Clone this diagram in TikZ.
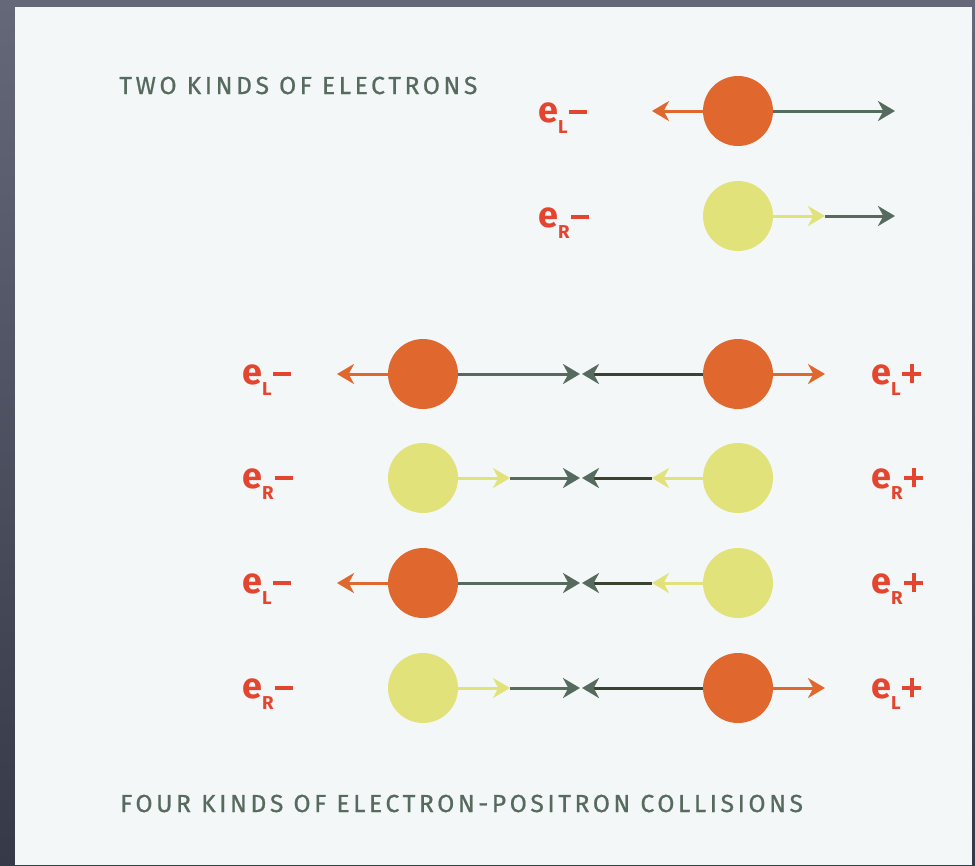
\documentclass[tikz,border=0pt]{standalone}
\usepackage{fontspec}
\setmainfont{Fira Sans}
\newfontfamily\capsfont[LetterSpace=14.5,FakeBold=0.7]{Fira Sans}
\usetikzlibrary{arrows.meta}
\definecolor{bgtop}{HTML}{646879}
\definecolor{bgbot}{HTML}{363947}
\definecolor{panel}{HTML}{F3F7F8}
\definecolor{orng}{HTML}{E0672E}
\definecolor{ylw}{HTML}{E1E27A}
\definecolor{gry}{HTML}{566A5E}
\definecolor{drk}{HTML}{3B4230}
\definecolor{lbl}{HTML}{E4452F}
\newcommand{\lsub}[1]{\raisebox{-8.3pt}{\fontsize{14pt}{14pt}\selectfont #1}}
\newcommand{\mns}{\hspace{1.2pt}\rule[6.2pt]{13.5pt}{2.7pt}}
\newcommand{\pls}{\hspace{1.2pt}\rlap{\rule[6.1pt]{14.25pt}{2.9pt}}\hspace{5.675pt}\rule[0.4pt]{2.9pt}{14.25pt}\hspace{5.675pt}}
\tikzset{
  ball/.style={circle, minimum size=52.5pt, inner sep=0pt, draw=none},
  lball/.style={ball, fill=orng},
  rball/.style={ball, fill=ylw},
  arrhead/.style={-{Stealth[length=12.75pt, width=15pt, inset=4pt, #1]}},
  arrhead/.default={},
  garr/.style={draw=gry, line width=2.25pt, arrhead},
  darr/.style={draw=drk, line width=2.25pt, arrhead={color=gry}},
  oarr/.style={draw=orng, line width=2.25pt, arrhead},
  yarr/.style={draw=ylw, line width=2.25pt, arrhead},
  lab/.style={anchor=base west, inner sep=0pt, text=lbl, font=\fontsize{27pt}{27pt}\selectfont\bfseries},
  ttl/.style={anchor=base west, inner sep=0pt, text=gry, font=\fontsize{18.5pt}{18.5pt}\selectfont\capsfont}
}
\begin{document}
\begin{tikzpicture}[x=0.75pt, y=-0.75pt]
\useasboundingbox (0,0) rectangle (975,865);
\shade[top color=bgtop, bottom color=bgbot] (0,0) rectangle (975,865);
\fill[panel] (15,7) rectangle (972,865);

% titles
\node[ttl] (t1) at (119,94) {TWO KINDS OF ELECTRONS};
\node[ttl] (t2) at (120,812) {FOUR KINDS OF ELECTRON-POSITRON COLLISIONS};

% top section
\node[lab] (la1) at (538,122) {e\lsub{L}\mns};
\node[lball] (a1) at (738,111) {};
\coordinate (a1l) at (652,111);
\coordinate (a1r) at (895,111);
\draw[oarr] (a1) -- (a1l);
\draw[garr] (a1) -- (a1r);

\node[lab] (la2) at (538,227) {e\lsub{R}\mns};
\node[rball] (a2) at (738,216) {};
\coordinate (a2m) at (825,216);
\coordinate (a2r) at (895,216);
\draw[yarr] (a2) -- (a2m);
\draw[garr] (a2m) -- (a2r);

% row 1: eL- eL+
\node[lab] (lb1) at (242,384) {e\lsub{L}\mns};
\node[lab] (lc1) at (871,384) {e\lsub{L}\pls};
\node[lball] (b1) at (423,374) {};
\node[lball] (c1) at (738,374) {};
\coordinate (b1o) at (337,374);
\coordinate (b1m) at (580,374);
\coordinate (c1m) at (582,374);
\coordinate (c1o) at (825,374);
\draw[oarr] (b1) -- (b1o);
\draw[garr] (b1) -- (b1m);
\draw[darr] (c1) -- (c1m);
\draw[oarr] (c1) -- (c1o);

% row 2: eR- eR+
\node[lab] (lb2) at (242,488) {e\lsub{R}\mns};
\node[lab] (lc2) at (871,488) {e\lsub{R}\pls};
\node[rball] (b2) at (423,478) {};
\node[rball] (c2) at (738,478) {};
\coordinate (b2y) at (510,478);
\coordinate (b2m) at (580,478);
\coordinate (c2m) at (582,478);
\coordinate (c2y) at (652,478);
\draw[yarr] (b2) -- (b2y);
\draw[garr] (b2y) -- (b2m);
\draw[yarr] (c2) -- (c2y);
\draw[darr] (c2y) -- (c2m);

% row 3: eL- eR+
\node[lab] (lb3) at (242,593) {e\lsub{L}\mns};
\node[lab] (lc3) at (871,593) {e\lsub{R}\pls};
\node[lball] (b3) at (423,583) {};
\node[rball] (c3) at (738,583) {};
\coordinate (b3o) at (337,583);
\coordinate (b3m) at (580,583);
\coordinate (c3m) at (582,583);
\coordinate (c3y) at (652,583);
\draw[oarr] (b3) -- (b3o);
\draw[garr] (b3) -- (b3m);
\draw[yarr] (c3) -- (c3y);
\draw[darr] (c3y) -- (c3m);

% row 4: eR- eL+
\node[lab] (lb4) at (242,698) {e\lsub{R}\mns};
\node[lab] (lc4) at (871,698) {e\lsub{L}\pls};
\node[rball] (b4) at (423,688) {};
\node[lball] (c4) at (738,688) {};
\coordinate (b4y) at (510,688);
\coordinate (b4m) at (580,688);
\coordinate (c4m) at (582,688);
\coordinate (c4o) at (825,688);
\draw[yarr] (b4) -- (b4y);
\draw[garr] (b4y) -- (b4m);
\draw[darr] (c4) -- (c4m);
\draw[oarr] (c4) -- (c4o);
\end{tikzpicture}
\end{document}
